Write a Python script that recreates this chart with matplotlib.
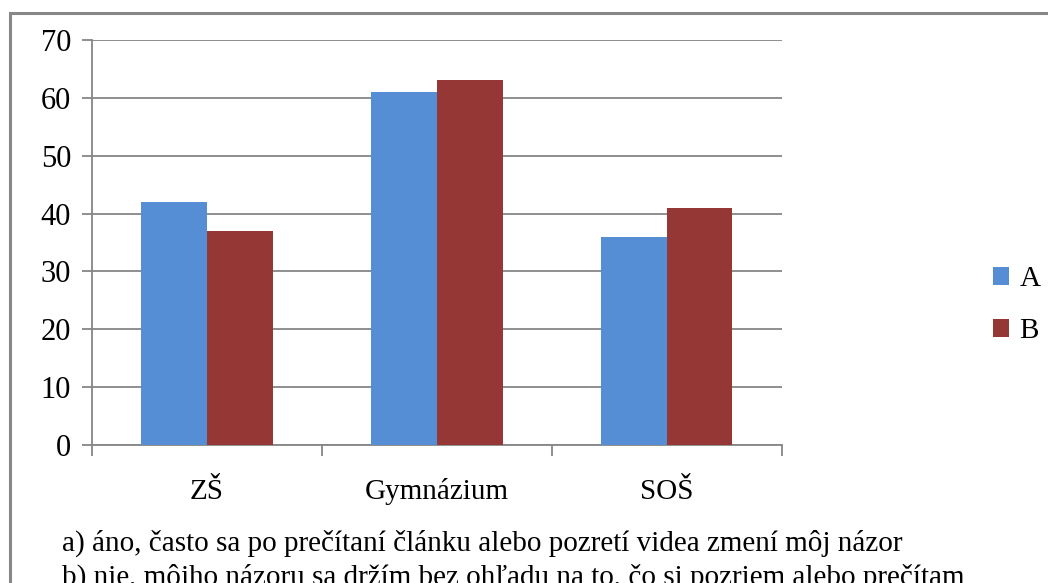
import matplotlib

matplotlib.use("Agg")

import matplotlib.pyplot as plt
import numpy as np
from matplotlib.patches import Rectangle

# data
categories = ["ZŠ", "Gymnázium", "SOŠ"]
series_names = ["A", "B"]
values_a = [42, 61, 36]
values_b = [37, 63, 41]
footnote = ["a) áno, často sa po prečítaní článku alebo pozretí videa zmení môj názor",
            "b) nie, môjho názoru sa držím bez ohľadu na to, čo si pozriem alebo prečítam"]

BLUE = "#558ED5"
RED = "#953735"
GRID = "#868686"

plt.rcParams.update({
    "font.family": ["Liberation Serif", "DejaVu Serif"],
    "font.size": 21,
})

fig = plt.figure(figsize=(10.48, 5.83), dpi=100)
ax = fig.add_axes([0.0878, 0.2367, 0.6583, 0.6947])

# outer chart border (right/bottom run off the picture)
fig.patches.append(Rectangle((10 / 1048, -0.2), 1.2, 1 - 13 / 583 + 0.2,
                             transform=fig.transFigure, fill=False,
                             ec="#878787", lw=2.2))

x = np.arange(len(categories))
w = 0.285
ax.bar(x - w / 2, values_a, w, color=BLUE, label=series_names[0], zorder=3)
ax.bar(x + w / 2, values_b, w, color=RED, label=series_names[1], zorder=3)

ax.set_xlim(-0.5, len(categories) - 0.5)
ax.set_ylim(0, 70)
ax.set_yticks(range(0, 71, 10))
ax.yaxis.grid(True, color=GRID, lw=1.3, zorder=0)
ax.set_axisbelow(True)

ax.set_xticks(x, categories)
ax.tick_params(axis="x", length=0, pad=39, labelsize=21)
for lbl in ax.get_xticklabels():
    lbl.set_verticalalignment("baseline")
ax.set_xticks(np.arange(-0.5, len(categories)), minor=True)
ax.tick_params(axis="x", which="minor", length=8, width=1.3, color=GRID)
ax.tick_params(axis="y", length=7, width=1.3, color=GRID, pad=8, labelsize=22)

for side in ("top", "right"):
    ax.spines[side].set_visible(False)
for side in ("left", "bottom"):
    ax.spines[side].set_color(GRID)
    ax.spines[side].set_linewidth(1.3)

ax.legend(loc="center left", bbox_to_anchor=(1.268, 0.345), frameon=False,
          handlelength=0.55, handleheight=0.55, handletextpad=0.35,
          labelspacing=0.9, fontsize=21)

fig.text(62 / 1048, 1 - 543 / 583, footnote[0], ha="left", va="center", fontsize=21)
fig.text(62 / 1048, 1 - 577 / 583, footnote[1], ha="left", va="center", fontsize=21)

fig.savefig("out.png", dpi=100)
